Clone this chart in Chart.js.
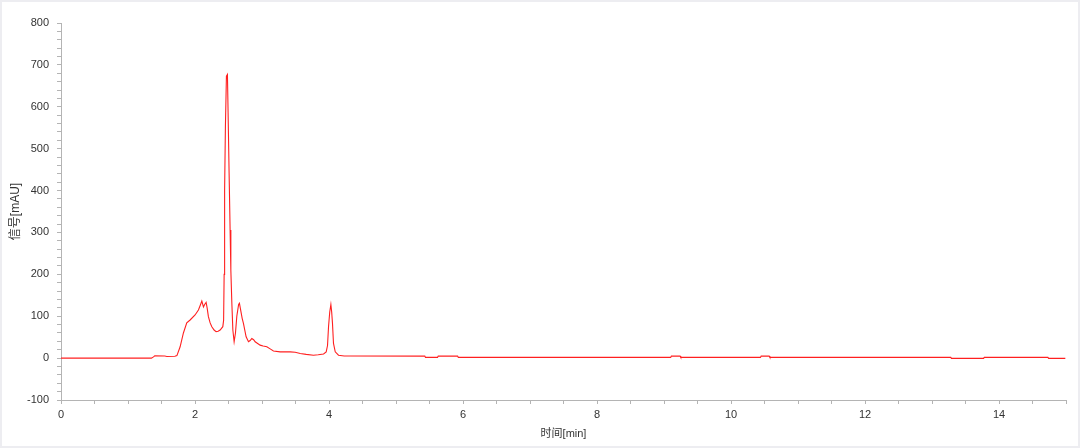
<!DOCTYPE html>
<html>
<head>
<meta charset="utf-8">
<script src="https://cdn.jsdelivr.net/npm/chart.js@4/dist/chart.umd.min.js"></script>
<style>
  html, body { margin: 0; padding: 0; background: #ffffff; }
  #wrap { position: relative; width: 1080px; height: 448px; }
  #frame { position: absolute; left: 0; top: 0; width: 1080px; height: 448px; box-sizing: border-box; border: 2px solid #ededf1; pointer-events: none; }
</style>
</head>
<body>
<div id="wrap">
  <canvas id="c" width="1080" height="448"></canvas>
  <div id="frame"></div>
</div>
<script>
// Retention time [min]
const times = [0, 1.35, 1.38, 1.40, 1.55, 1.58, 1.70, 1.73, 1.778, 1.827, 1.877, 1.927, 2.001, 2.051, 2.076, 2.102, 2.126, 2.144, 2.166, 2.181, 2.200, 2.226, 2.251, 2.285, 2.315, 2.345, 2.375, 2.415, 2.427, 2.435, 2.442, 2.454, 2.469, 2.484, 2.494, 2.509, 2.524, 2.535, 2.550, 2.565, 2.584, 2.604, 2.624, 2.651, 2.663, 2.681, 2.704, 2.723, 2.763, 2.798, 2.823, 2.848, 2.875, 2.898, 2.972, 3.017, 3.072, 3.122, 3.171, 3.271, 3.346, 3.420, 3.495, 3.570, 3.660, 3.768, 3.839, 3.919, 3.958, 3.978, 3.993, 4.011, 4.028, 4.040, 4.052, 4.067, 4.093, 4.142, 4.227, 4.317, 5.43, 5.44, 5.62, 5.63, 5.92, 5.93, 9.10, 9.11, 9.24, 9.25, 10.44, 10.45, 10.57, 10.58, 13.28, 13.29, 13.77, 13.78, 14.73, 14.74, 14.99];
// Signal [mAU]
const signal = [0, 0, 3, 5.7, 5, 4, 4.3, 6, 27, 60, 84, 91, 103, 115, 125, 136, 122, 128, 133, 120, 99, 84, 75, 67, 63, 64, 67, 75, 90, 200, 400, 553, 673, 677, 586, 442, 306, 210, 131, 67, 39, 60, 100, 128, 131, 115, 95, 83, 51, 39, 42, 47, 44, 39, 31, 29, 27, 22, 17, 15, 15, 15, 14, 11, 9, 7, 8, 10, 15, 30, 75, 110, 128, 110, 83, 35, 15, 7, 5, 5, 4.8, 1.7, 1.7, 4.8, 4.8, 1.7, 1.7, 4.8, 4.8, 1.7, 1.7, 4.8, 4.8, 1.7, 1.7, -0.7, -0.7, 1.7, 1.7, -0.7, -0.7];
// Axis settings
const xRange = [0, 15];
const xMajorStep = 2;
const xMinorStep = 0.5;
const yRange = [-100, 800];
const yMajorStep = 100;
const yMinorStep = 20;
const xTitle = '时间[min]';
const yTitle = '信号[mAU]';

const points = times.map((t, i) => ({ x: t, y: signal[i] }));
const isMult = (v, s) => Math.abs(v / s - Math.round(v / s)) < 1e-6;
const FONT = "'Liberation Sans', Arial, 'Noto Sans CJK SC', sans-serif";

new Chart(document.getElementById('c'), {
  type: 'line',
  data: {
    datasets: [{
      data: points,
      borderColor: '#ff2020',
      borderWidth: 1.1,
      pointRadius: 0,
      tension: 0,
      fill: false
    }]
  },
  options: {
    responsive: false,
    animation: false,
    devicePixelRatio: 1,
    layout: { padding: { left: 0, right: 14, top: 23, bottom: 0 } },
    plugins: { legend: { display: false }, tooltip: { enabled: false } },
    scales: {
      x: {
        type: 'linear',
        min: xRange[0], max: xRange[1],
        afterFit: (s) => { s.height = 48; },
        border: { color: '#b4b4b4', width: 1 },
        grid: { display: true, drawOnChartArea: false, drawTicks: true, tickLength: 4, tickColor: '#b4b4b4' },
        ticks: {
          stepSize: xMinorStep, autoSkip: false, maxRotation: 0, padding: 4,
          color: '#333', font: { family: FONT, size: 11 },
          callback: (v) => isMult(v, xMajorStep) ? String(v) : ''
        },
        title: { display: true, text: xTitle, color: '#333', font: { family: FONT, size: 11 }, padding: { top: 0, bottom: 7 } }
      },
      y: {
        type: 'linear',
        min: yRange[0], max: yRange[1],
        afterFit: (s) => { s.width = 61; },
        border: { color: '#b4b4b4', width: 1 },
        grid: { display: true, drawOnChartArea: false, drawTicks: true, tickLength: 4, tickColor: '#b4b4b4' },
        ticks: {
          stepSize: yMinorStep, autoSkip: false, padding: 8,
          color: '#333', font: { family: FONT, size: 11 },
          callback: (v) => isMult(v, yMajorStep) ? String(v) : ''
        },
        title: { display: true, text: yTitle, color: '#333', font: { family: FONT, size: 12 }, padding: { top: 8, bottom: 0 } }
      }
    }
  }
});
</script>
</body>
</html>
